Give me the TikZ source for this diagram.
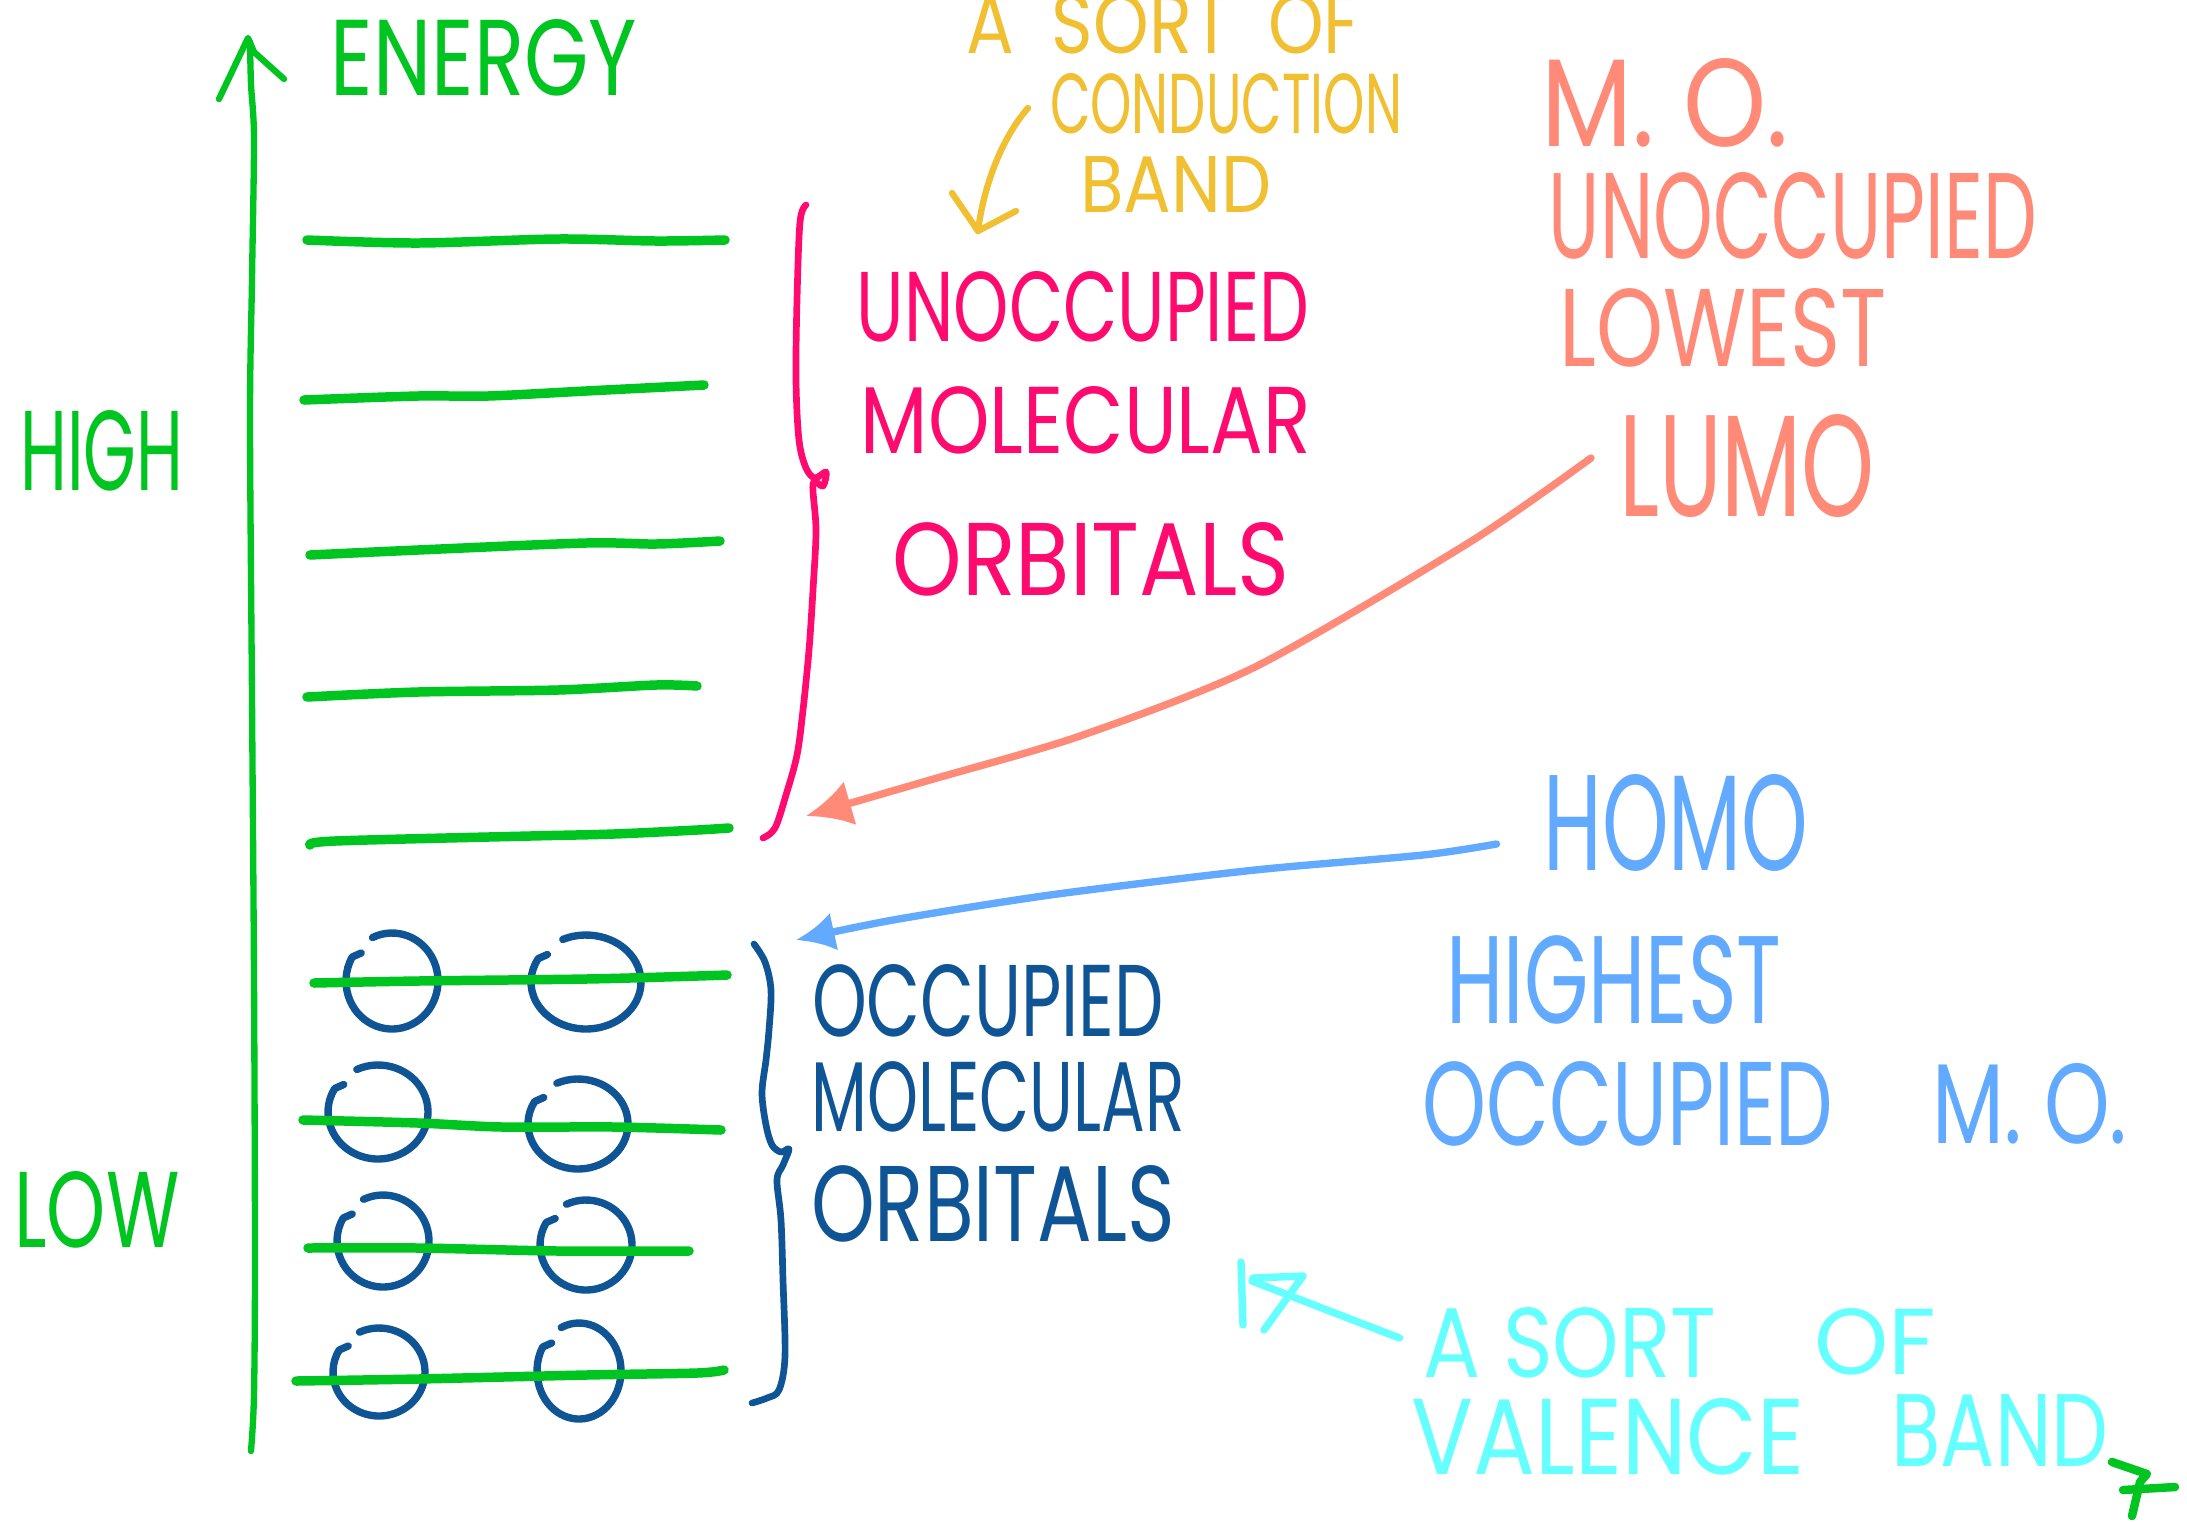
\documentclass[tikz,border=0pt]{standalone}
\usepackage{fontspec}
\setmainfont{Poppins}
\usepackage{graphicx}
\usetikzlibrary{arrows.meta,calc}

\definecolor{lvlgreen}{RGB}{0,196,32}
\definecolor{hotpink}{RGB}{255,10,110}
\definecolor{mustard}{RGB}{240,192,50}
\definecolor{salmon}{RGB}{255,138,120}
\definecolor{skyblue}{RGB}{98,170,255}
\definecolor{navyblue}{RGB}{15,85,150}
\definecolor{aqua}{RGB}{102,255,255}

% one pixel of the drawing grid
\newdimen\pxu \pxu=0.01cm
% text squeezed into a box of given width and height (in grid pixels)
\newcommand\hw[3]{\resizebox{#1\pxu}{#2\pxu}{#3}}
% an orbital: an open loop with a little hook at its upper left
\newcommand\orbital[5]{%
  \draw[orb] (#2,#3) ++(245:#4 and #5) coordinate (#1)
    arc[start angle=245,end angle=570,x radius=#4,y radius=#5] -- ++(9,-4);}

\begin{document}
\begin{tikzpicture}[x=0.01cm,y=-0.01cm,line cap=round,line join=round,
  lbl/.style={inner sep=0pt,outer sep=0pt,anchor=center},
  level/.style={draw=lvlgreen,line width=2.7pt},
  axisln/.style={draw=lvlgreen,line width=1.8pt},
  orb/.style={draw=navyblue,line width=2.1pt},
  bracepink/.style={draw=hotpink,line width=1.9pt},
  bracenavy/.style={draw=navyblue,line width=1.9pt},
  arrsalmon/.style={draw=salmon,line width=2.1pt,-{Latex[length=13pt,width=13pt]}},
  arrsky/.style={draw=skyblue,line width=2.1pt,-{Latex[length=11pt,width=11pt]}},
  yellowln/.style={draw=mustard,line width=1.8pt},
  aqualn/.style={draw=aqua,line width=2.1pt},
  markgreen/.style={draw=lvlgreen,line width=2.4pt}]

\useasboundingbox (0,0) rectangle (2187,1523);
\fill[white] (0,0) rectangle (2187,1523);

% energy axis
\draw[axisln] plot[smooth] coordinates {(251,1451)(254,1395)(255,1255)(254,976)(252,697)(250,418)(252,279)(254,139)(251,84)(250,42)};
\draw[axisln] (219,99) -- (248,38) -- (254,52) -- (284,79);

% axis labels
\node[lbl,text=lvlgreen] (energy) at (484,58) {\hw{306}{76}{ENERGY}};
\node[lbl,text=lvlgreen] (high) at (102,451) {\hw{163}{80}{HIGH}};
\node[lbl,text=lvlgreen] (low) at (97,1210) {\hw{165}{76}{LOW}};

% unoccupied levels
\draw[level] plot[smooth] coordinates {(307,240)(418,243)(558,239)(656,241)(725,240)};
\draw[level] plot[smooth] coordinates {(304,400)(418,396)(488,396)(586,391)(704,385)};
\draw[level] plot[smooth] coordinates {(310,555)(418,550)(586,543)(656,544)(720,541)};
\draw[level] plot[smooth] coordinates {(307,697)(418,692)(558,690)(656,685)(697,686)};
\draw[level] plot[smooth] coordinates {(310,845)(335,841)(530,836)(614,834)(697,830)(729,828)};

% occupied levels with their electron pairs
\orbital{o1a}{392}{981}{46}{48}
\orbital{o1b}{586}{982}{55}{47}
\orbital{o2a}{378}{1112}{50}{47}
\orbital{o2b}{578}{1124}{50}{45}
\orbital{o3a}{383}{1241}{46}{46}
\orbital{o3b}{586}{1245}{46}{45}
\orbital{o4a}{379}{1372}{46}{44}
\orbital{o4b}{579}{1371}{42}{48}
\draw[level] plot[smooth] coordinates {(314,983)(418,981)(586,979)(697,976)(727,975)};
\draw[level] plot[smooth] coordinates {(303,1120)(418,1123)(502,1127)(614,1127)(721,1130)};
\draw[level] plot[smooth] coordinates {(308,1248)(418,1248)(558,1251)(689,1251)};
\draw[level] plot[smooth] coordinates {(296,1381)(418,1379)(586,1375)(697,1373)(724,1370)};

% brace of the unoccupied orbitals
\draw[bracepink] plot[smooth,tension=0.55] coordinates {(806,205)(800,222)(797,300)(796,380)(799,440)(806,468)(815,478)(826,472)(823,486)(813,484)(816,530)(813,590)(809,650)(803,710)(797,755)(786,795)(775,828)(763,838)};
\node[lbl,text=hotpink] (unocc) at (1083,307) {\hw{452}{70}{UNOCCUPIED}};
\node[lbl,text=hotpink] (unmol) at (1086,420) {\hw{450}{67}{MOLECULAR}};
\node[lbl,text=hotpink] (unorb) at (1091,559) {\hw{397}{73}{ORBITALS}};

% brace of the occupied orbitals
\draw[bracenavy] plot[smooth,tension=0.55] coordinates {(754,944)(765,962)(771,990)(769,1030)(766,1060)(762,1093)(766,1125)(772,1145)(781,1152)(789,1149)(783,1165)(777,1180)(781,1220)(783,1280)(785,1356)(779,1390)(767,1398)(752,1403)};
\node[lbl,text=navyblue] (occ) at (988,1001) {\hw{352}{72}{OCCUPIED}};
\node[lbl,text=navyblue] (occmol) at (998,1097) {\hw{373}{70}{MOLECULAR}};
\node[lbl,text=navyblue] (occorb) at (993,1204) {\hw{364}{76}{ORBITALS}};

% conduction band note
\node[lbl,text=mustard] (sortc) at (1163,24) {\hw{393}{60}{A\ \ SORT\ \ OF}};
\node[lbl,text=mustard] (cond) at (1226,104) {\hw{352}{60}{CONDUCTION}};
\node[lbl,text=mustard] (band) at (1176,184) {\hw{191}{56}{BAND}};
\coordinate (condtip) at (978,231);
\draw[yellowln] ($(cond.west)+(-22,4)$) .. controls (1000,140) and (983,190) .. (condtip);
\draw[yellowln] ($(condtip)+(-26,-38)$) -- (condtip) -- ++(38,-20);

% LUMO note
\node[lbl,text=salmon] (mo1) at (1665,103) {\hw{247}{88}{M.\ O.}};
\node[lbl,text=salmon] (unocc2) at (1793,216) {\hw{488}{86}{UNOCCUPIED}};
\node[lbl,text=salmon] (lowest) at (1723,328) {\hw{327}{78}{LOWEST}};
\node[lbl,text=salmon] (lumo) at (1747,466) {\hw{256}{102}{LUMO}};
\coordinate (lumotip) at (806,816);
\draw[arrsalmon] plot[smooth,tension=0.45] coordinates {($(lumo.west)+(-28,-8)$) (1470,542) (1255,667) (1080,736) (930,780) (lumotip)};

% HOMO note
\node[lbl,text=skyblue] (homo) at (1676,823) {\hw{265}{96}{HOMO}};
\node[lbl,text=skyblue] (highest) at (1614,980) {\hw{335}{88}{HIGHEST}};
\node[lbl,text=skyblue] (occ2) at (1628,1104) {\hw{411}{84}{OCCUPIED}};
\node[lbl,text=skyblue] (mo2) at (2030,1104) {\hw{195}{80}{M.\ O.}};
\coordinate (homotip) at (796,940);
\draw[arrsky] plot[smooth,tension=0.45] coordinates {($(homo.west)+(-47,21)$) (1423,855) (1255,870) (1050,895) (893,920) (homotip)};

% valence band note
\node[lbl,text=aqua] (asort) at (1570,1343) {\hw{293}{70}{A SORT}};
\node[lbl,text=aqua] (of) at (1875,1342) {\hw{122}{66}{OF}};
\node[lbl,text=aqua] (valence) at (1608,1437) {\hw{393}{76}{VALENCE}};
\node[lbl,text=aqua] (band2) at (2000,1430) {\hw{217}{72}{BAND}};
\coordinate (valtip) at (1252,1281);
\draw[aqualn] ($(asort.west)+(-24,-5)$) -- (valtip);
\draw[aqualn] (1241,1262) -- (1243,1325);
\draw[aqualn] (1253,1278) -- (1303,1276) -- (1264,1330);

% small mark in the corner
\draw[markgreen] (2112,1462) -- (2147,1474) -- (2140,1482) -- (2132,1516);
\draw[markgreen] (2123,1490) -- (2175,1487);
\end{tikzpicture}
\end{document}
